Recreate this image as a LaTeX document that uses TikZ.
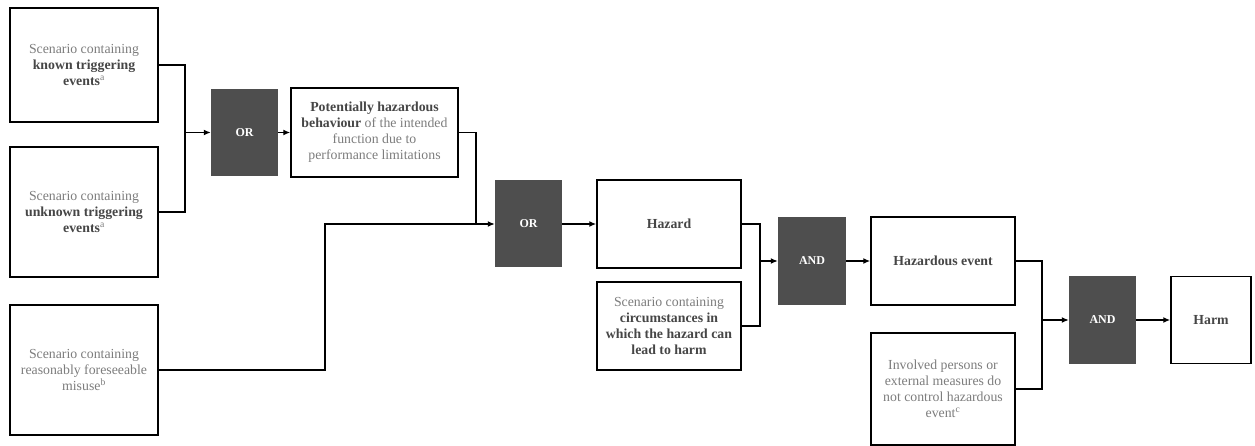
\documentclass[tikz,border=0pt]{standalone}
\usepackage{fontspec}
\setmainfont{Liberation Serif}
\usetikzlibrary{arrows.meta}
\definecolor{gatefill}{RGB}{78,78,78}
\definecolor{regtext}{RGB}{125,125,125}
\definecolor{boldtext}{RGB}{70,70,70}
\newcommand{\bt}[1]{\textbf{\color{boldtext}#1}}
\begin{document}
\begin{tikzpicture}[x=1pt,y=-1pt,
  box/.style={draw=black,line width=1.5pt,fill=white,align=center,inner sep=2pt,
    font=\fontsize{13.8}{16}\selectfont,text=regtext},
  gate/.style={fill=gatefill,draw=none,text=white,font=\fontsize{12}{14}\selectfont\bfseries,
    minimum width=67pt,minimum height=87pt},
  conn/.style={line width=1.5pt},
  arr/.style={line width=1.5pt,-{Latex[length=7pt,width=6pt]}}]
\useasboundingbox (0,0) rectangle (1255,446);
\node[box,minimum width=148pt,minimum height=114pt] (b1) at (84,65)
  {Scenario containing\\\bt{known triggering}\\\bt{events}\textsuperscript{a}};
\node[box,minimum width=148pt,minimum height=130pt] (b2) at (84,212)
  {Scenario containing\\\bt{unknown triggering}\\\bt{events}\textsuperscript{a}};
\node[box,minimum width=148pt,minimum height=130pt] (b3) at (84,370)
  {Scenario containing\\reasonably foreseeable\\misuse\textsuperscript{b}};
\node[gate] (or1) at (244.5,132.5) {OR};
\node[box,minimum width=167pt,minimum height=89pt] (phb) at (374.5,132.5)
  {\bt{Potentially hazardous}\\\bt{behaviour} of the intended\\function due to\\performance limitations};
\node[gate] (or2) at (528.5,224) {OR};
\node[box,minimum width=144pt,minimum height=88pt] (hz) at (669,224) {\bt{Hazard}};
\node[box,minimum width=144pt,minimum height=88pt] (circ) at (669,326)
  {Scenario containing\\\bt{circumstances in}\\\bt{which the hazard can}\\\bt{lead to harm}};
\node[gate,minimum width=68pt] (and1) at (812,261) {AND};
\node[box,minimum width=144pt,minimum height=88pt] (he) at (943,261) {\bt{Hazardous event}};
\node[box,minimum width=144pt,minimum height=112pt] (inv) at (943,389)
  {Involved persons or\\external measures do\\not control hazardous\\event\textsuperscript{c}};
\node[gate] (and2) at (1102.5,320) {AND};
\node[box,minimum width=80pt,minimum height=87pt] (harm) at (1211,320) {\bt{Harm}};
% connectors
\coordinate (j1) at (185,132.5);
\coordinate (j2) at (476,224);
\coordinate (k) at (325,224);
\coordinate (j3) at (760,261);
\coordinate (j4) at (1042,320);
\draw[conn] (b1.east) -| (j1) |- (b2.east);
\draw[arr] (j1) -- (or1.west);
\draw[arr] (or1.east) -- (phb.west);
\draw[conn] (phb.east) -| (j2);
\draw[conn] (b3.east) -| (k) -- (j2);
\draw[arr] (j2) -- (or2.west);
\draw[arr] (or2.east) -- (hz.west);
\draw[conn] (hz.east) -| (j3) |- (circ.east);
\draw[arr] (j3) -- (and1.west);
\draw[arr] (and1.east) -- (he.west);
\draw[conn] (he.east) -| (j4) |- (inv.east);
\draw[arr] (j4) -- (and2.west);
\draw[arr] (and2.east) -- (harm.west);
\end{tikzpicture}
\end{document}
